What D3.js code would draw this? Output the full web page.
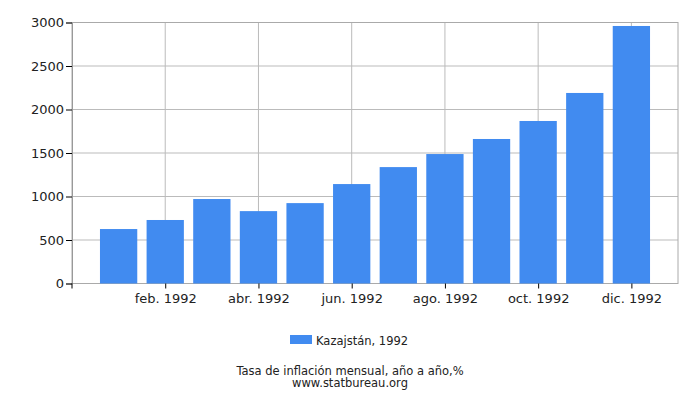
<!DOCTYPE html>
<meta charset="utf-8">
<title>Kazajstán 1992</title>
<style>
body { margin: 0; background: #fff; font-family: "DejaVu Sans", sans-serif; }
svg text { fill: #222; }
</style>
<body>
<svg id="chart" width="700" height="400"></svg>
<script src="https://cdn.jsdelivr.net/npm/d3@7/dist/d3.min.js"></script>
<script>
// data
var months = ["ene. 1992", "feb. 1992", "mar. 1992", "abr. 1992", "may. 1992", "jun. 1992",
              "jul. 1992", "ago. 1992", "sept. 1992", "oct. 1992", "nov. 1992", "dic. 1992"];
var values = [626, 730, 971, 832, 924, 1143, 1338, 1488, 1661, 1868, 2190, 2960];
var yTicks = [0, 500, 1000, 1500, 2000, 2500, 3000];
var seriesName = "Kazajstán, 1992";
var title = "Tasa de inflación mensual, año a año,%";
var source = "www.statbureau.org";

var plotL = 72, plotR = 678, plotT = 22.5, plotB = 283.5;
var svg = d3.select("#chart");

// months sit at 1..12 on a 0..13 axis
var x = d3.scaleLinear().domain([0, 13]).range([plotL, plotR]);
var y = d3.scaleLinear().domain([0, 3000]).range([plotB, plotT]);
var barW = (x(1) - x(0)) * 0.8;

// grid
svg.append("g").selectAll("line").data(yTicks).enter().append("line")
  .attr("x1", plotL).attr("x2", plotR)
  .attr("y1", function(d){ return y(d); }).attr("y2", function(d){ return y(d); })
  .attr("stroke", "#bbb");
svg.append("g").selectAll("line").data(d3.range(2, 13, 2)).enter().append("line")
  .attr("x1", function(d){ return x(d); }).attr("x2", function(d){ return x(d); })
  .attr("y1", plotT).attr("y2", plotB)
  .attr("stroke", "#bbb");
svg.append("rect")
  .attr("x", plotL).attr("y", plotT).attr("width", plotR - plotL).attr("height", plotB - plotT)
  .attr("fill", "none").attr("stroke", "#aaa");

// bars
svg.append("g").selectAll("rect").data(values).enter().append("rect")
  .attr("x", function(d, i){ return x(i + 1) - barW / 2; })
  .attr("y", function(d){ return y(d); })
  .attr("width", barW)
  .attr("height", function(d){ return plotB - y(d); })
  .attr("fill", "#418bf0");

// y axis
var yAxis = svg.append("g").attr("transform", "translate(" + plotL + ",0)")
  .call(d3.axisLeft(y).tickValues(yTicks).tickSize(6).tickPadding(2).tickFormat(d3.format("d")));
yAxis.select(".domain").attr("stroke", "#999");
yAxis.selectAll(".tick line").attr("stroke", "#000");
yAxis.selectAll("text").style("font-size", "13px").style("font-family", "DejaVu Sans").attr("fill", "#222");
svg.append("line").attr("x1", plotL).attr("x2", plotL).attr("y1", plotB).attr("y2", plotB + 5).attr("stroke", "#000");

// x axis, every other month labelled
var xAxis = svg.append("g").attr("transform", "translate(0," + plotB + ")")
  .call(d3.axisBottom(x).tickValues(d3.range(2, 13, 2)).tickSize(5).tickPadding(5)
    .tickFormat(function(d){ return months[d - 1]; }));
xAxis.select(".domain").remove();
xAxis.selectAll(".tick line").attr("stroke", "#000");
xAxis.selectAll("text").style("font-size", "13px").style("font-family", "DejaVu Sans").attr("fill", "#222");

// legend
svg.append("rect").attr("x", 290).attr("y", 335).attr("width", 22).attr("height", 9).attr("fill", "#418bf0");
svg.append("text").attr("x", 316).attr("y", 345).style("font-size", "11.5px").text(seriesName);

svg.append("text").attr("x", 350).attr("y", 375).attr("text-anchor", "middle").style("font-size", "11.5px").text(title);
svg.append("text").attr("x", 350).attr("y", 386.5).attr("text-anchor", "middle").style("font-size", "11.5px").text(source);
</script>
</body>
